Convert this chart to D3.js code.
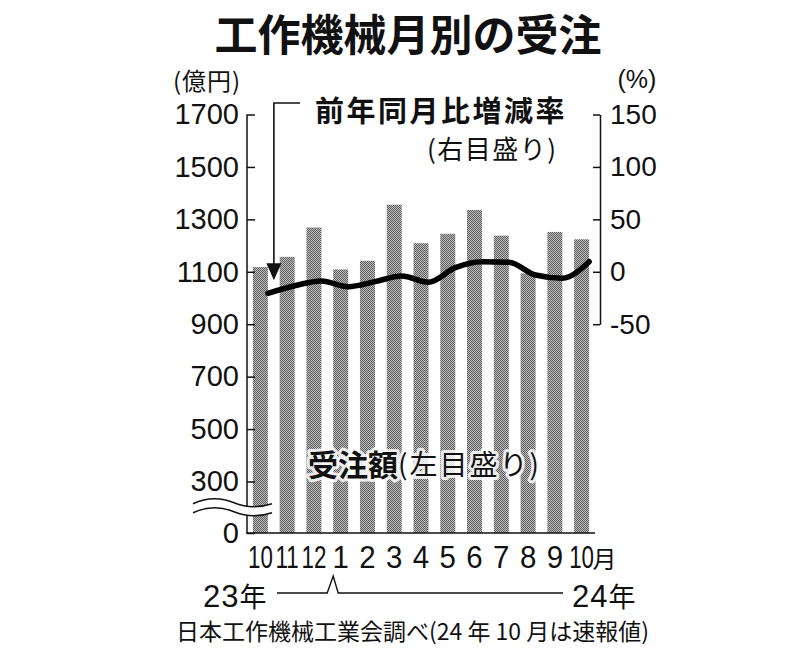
<!DOCTYPE html>
<html>
<head>
<meta charset="utf-8">
<script src="https://cdn.jsdelivr.net/npm/d3@7"></script>
<style>
  body { margin: 0; background: #fff; }
  text { fill: #111; }
  .num { font-family: "Liberation Sans", Arial, sans-serif; }
  .jp { font-family: "Noto Sans CJK JP", sans-serif; }
</style>
</head>
<body>
<svg id="chart" width="800" height="659"></svg>
<script>
// 工作機械受注 (億円) と前年同月比 (%)
const periods = ['2023-10', '2023-11', '2023-12', '2024-01', '2024-02', '2024-03', '2024-04',
  '2024-05', '2024-06', '2024-07', '2024-08', '2024-09', '2024-10']
const monthLabels = ['10', '11', '12', '1', '2', '3', '4', '5', '6', '7', '8', '9', '10']
const orders = [1118, 1157, 1269, 1109, 1142, 1356, 1209, 1245, 1336, 1238, 1094, 1252, 1224]
const yoy = [-20.5, -13.3, -8.8, -14.2, -9.4, -4.0, -10.0, 3.9, 9.6, 9.1, -3.1, -6.2, 9.6]
const leftTicks = [0, 300, 500, 700, 900, 1100, 1300, 1500, 1700]
const rightTicks = [-50, 0, 50, 100, 150]

const svg = d3.select('#chart')
svg.append('rect').attr('width', 800).attr('height', 659).attr('fill', '#fff')

// halftone fill for the bars
const pat = svg.append('defs').append('pattern')
  .attr('id', 'dots').attr('width', 2).attr('height', 2)
  .attr('patternUnits', 'userSpaceOnUse')
pat.append('rect').attr('width', 2).attr('height', 2).attr('fill', '#bdbdbd')
pat.append('rect').attr('width', 1).attr('height', 1).attr('fill', '#5e5e5e')
pat.append('rect').attr('x', 1).attr('y', 1).attr('width', 1).attr('height', 1).attr('fill', '#5e5e5e')

const x = d3.scaleBand().domain(periods).range([247, 595]).paddingInner(0.44).paddingOuter(0.22)
// broken axis: 0 sits one step below 300
const yL = d3.scaleLinear().domain([0, 300, 1700]).range([533, 481.5, 114.5])
const yR = d3.scaleLinear().domain([-50, 150]).range([324.2, 114.5])
const bw = x.bandwidth()
const plain = d => String(d)

// bars
svg.append('g')
  .selectAll('rect')
  .data(orders)
  .join('rect')
  .attr('x', (d, i) => x(periods[i]))
  .attr('y', d => yL(d))
  .attr('width', bw)
  .attr('height', d => yL(0) - yL(d))
  .attr('fill', 'url(#dots)')

// left axis
const gL = svg.append('g').attr('transform', 'translate(247,0)')
  .call(d3.axisLeft(yL).tickValues(leftTicks).tickFormat(plain)
    .tickSizeInner(-8).tickSizeOuter(0).tickPadding(8))
gL.select('.domain').remove()
gL.selectAll('line').attr('stroke', '#111').attr('stroke-width', 1.5)
gL.selectAll('text').attr('class', 'num').attr('font-size', 29).attr('fill', '#111')

svg.append('line')
  .attr('x1', 247).attr('x2', 247).attr('y1', yL(1700)).attr('y2', yL(0))
  .attr('stroke', '#111').attr('stroke-width', 1.5)
svg.append('line')
  .attr('x1', 246).attr('x2', 595).attr('y1', yL(0)).attr('y2', yL(0))
  .attr('stroke', '#111').attr('stroke-width', 1.5)

// right axis
const gR = svg.append('g').attr('transform', 'translate(600,0)')
  .call(d3.axisRight(yR).tickValues(rightTicks).tickFormat(plain)
    .tickSizeInner(-7).tickSizeOuter(0).tickPadding(10))
gR.select('.domain').attr('stroke', '#111').attr('stroke-width', 1.5)
gR.selectAll('line').attr('stroke', '#111').attr('stroke-width', 1.5)
gR.selectAll('text').attr('class', 'num').attr('font-size', 28).attr('fill', '#111')

// axis break marks
const yb = yL(150)
const wave = y0 => `M193,${y0 + 1} C208,${y0 - 6} 222,${y0 - 5} 234,${y0} S257,${y0 + 6} 272,${y0 + 1}`
svg.append('path').attr('d', wave(yb)).attr('fill', 'none').attr('stroke', '#fff').attr('stroke-width', 9)
svg.append('path').attr('d', wave(yb - 4.5)).attr('fill', 'none').attr('stroke', '#111').attr('stroke-width', 1.4)
svg.append('path').attr('d', wave(yb + 4.5)).attr('fill', 'none').attr('stroke', '#111').attr('stroke-width', 1.4)

// yoy line, drawn at the right edge of each bar
const line = d3.line()
  .x((d, i) => x(periods[i]) + bw)
  .y(d => yR(d))
  .curve(d3.curveMonotoneX)
svg.append('path')
  .datum(yoy)
  .attr('d', line)
  .attr('fill', 'none')
  .attr('stroke', '#000')
  .attr('stroke-width', 5.5)
  .attr('stroke-linecap', 'round')
  .attr('stroke-linejoin', 'round')

// month labels
svg.append('g')
  .selectAll('text')
  .data(monthLabels)
  .join('text')
  .attr('class', 'num')
  .attr('font-size', 31)
  .attr('text-anchor', 'middle')
  .attr('transform', (d, i) => `translate(${x(periods[i]) + bw / 2},568) scale(${d.length > 1 ? 0.72 : 0.95},1)`)
  .text(d => d)
svg.append('text').attr('class', 'jp')
  .attr('x', x(periods[12]) + bw / 2 + 11).attr('y', 557)
  .attr('dominant-baseline', 'central')
  .attr('font-size', 24).text('月')

// year bracket
const x0 = x(periods[3])
svg.append('path')
  .attr('d', `M277,593 H${x0 - 6} L${x0},576 L${x0 + 5},593 H563`)
  .attr('fill', 'none').attr('stroke', '#111').attr('stroke-width', 1.4)

const yearLabel = (xs, yr) => {
  const t = svg.append('text').attr('x', xs).attr('y', 607)
  t.append('tspan').attr('class', 'num').attr('font-size', 31).attr('letter-spacing', 1).text(yr)
  t.append('tspan').attr('class', 'jp').attr('font-size', 27).text('年')
}
yearLabel(203, '23')
yearLabel(572, '24')

// titles and notes
svg.append('text').attr('class', 'jp')
  .attr('x', 408).attr('y', 32).attr('text-anchor', 'middle').attr('dominant-baseline', 'central')
  .attr('font-size', 43).attr('font-weight', 700).text('工作機械月別の受注')

svg.append('text').attr('class', 'jp')
  .attr('x', 207).attr('y', 79).attr('text-anchor', 'middle').attr('dominant-baseline', 'central')
  .attr('font-size', 24).attr('letter-spacing', 1).text('(億円)')
svg.append('text').attr('class', 'num')
  .attr('x', 637).attr('y', 79).attr('text-anchor', 'middle').attr('dominant-baseline', 'central')
  .attr('font-size', 25).text('(%)')

svg.append('text').attr('class', 'jp')
  .attr('x', 315).attr('y', 109).attr('dominant-baseline', 'central')
  .attr('font-size', 29).attr('font-weight', 700).attr('letter-spacing', 2.5).text('前年同月比増減率')
svg.append('text').attr('class', 'jp')
  .attr('x', 427).attr('y', 147).attr('dominant-baseline', 'central')
  .attr('font-size', 26).attr('letter-spacing', 1.5).text('(右目盛り)')

// arrow to the first point of the line
const ax = x(periods[0]) + bw + 6
const tipY = yR(yoy[0]) - 13
svg.append('path')
  .attr('d', `M300,103 H${ax} V${tipY - 14}`)
  .attr('fill', 'none').attr('stroke', '#111').attr('stroke-width', 1.6)
svg.append('path')
  .attr('d', `M${ax - 7.5},${tipY - 17} L${ax + 7.5},${tipY - 17} L${ax},${tipY} Z`)
  .attr('fill', '#111')

const label = svg.append('text').attr('class', 'jp')
  .attr('x', 308).attr('y', 463).attr('dominant-baseline', 'central')
  .attr('stroke', '#fff').attr('stroke-width', 6).attr('stroke-opacity', 0.85)
  .attr('stroke-linejoin', 'round').attr('paint-order', 'stroke')
label.append('tspan').attr('font-size', 30).attr('font-weight', 700).text('受注額')
label.append('tspan').attr('font-size', 28).attr('letter-spacing', 2).text('(左目盛り)')

svg.append('text').attr('class', 'jp')
  .attr('x', 176).attr('y', 630).attr('dominant-baseline', 'central')
  .attr('font-size', 23).text('日本工作機械工業会調べ(24 年 10 月は速報値)')
</script>
</body>
</html>
